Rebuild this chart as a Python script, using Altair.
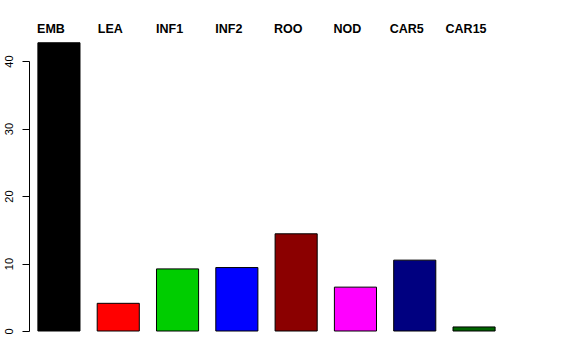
import altair as alt
import pandas as pd

categories = ["EMB", "LEA", "INF1", "INF2", "ROO", "NOD", "CAR5", "CAR15"]
values = [42.7, 4.1, 9.2, 9.4, 14.4, 6.5, 10.5, 0.6]
colors = ["#000000", "#FF0000", "#00CD00", "#0000FF", "#8B0000", "#FF00FF", "#000080", "#006400"]
y_ticks = [0, 10, 20, 30, 40]

df = pd.DataFrame({"cat": categories, "val": values, "col": colors})

xscale = alt.Scale(domain=categories, paddingInner=0.29, paddingOuter=0.15)
yscale = alt.Scale(domain=[0, 40], nice=False, zero=False)
y_axis = alt.Axis(title=None, values=y_ticks, domain=True, domainColor="black", domainWidth=1,
                  grid=False, tickSize=7, tickColor="black", labelAngle=270,
                  labelAlign="center", labelBaseline="bottom", labelPadding=8,
                  labelFont="Liberation Sans", labelFontSize=11, labelColor="black")

bars = alt.Chart(df).mark_bar(stroke="black", strokeWidth=1, clip=False).encode(
    x=alt.X("cat:N", scale=xscale, sort=categories,
            axis=alt.Axis(orient="top", title=None, ticks=False, domain=False,
                          labelAngle=0, labelFont="Liberation Sans", labelFontWeight="bold",
                          labelFontSize=12.5, labelColor="black", labelPadding=26,
                          labelOffset=-8)),
    y=alt.Y("val:Q", scale=yscale, axis=y_axis),
    color=alt.Color("col:N", scale=None),
)

chart = bars.properties(
    width=475, height=270,
    padding={"left": 29, "top": 61, "right": 72, "bottom": 29},
    autosize=alt.AutoSizeParams(type="none"),
    background="white",
).configure_view(stroke=None)

chart.save("out.html", embed_options={"renderer": "svg", "actions": False})
